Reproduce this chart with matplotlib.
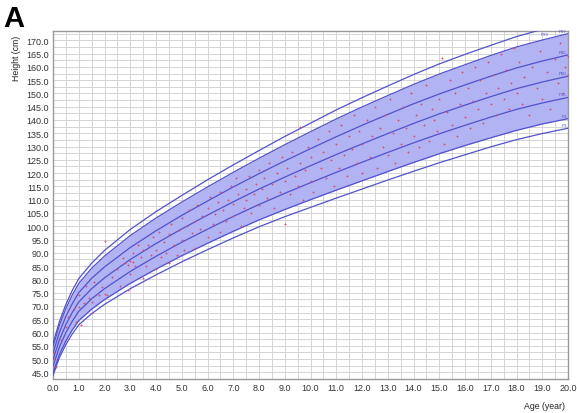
import matplotlib
matplotlib.use("Agg")
import matplotlib.pyplot as plt
import numpy as np

plt.rcParams['font.family'] = ['Liberation Sans', 'DejaVu Sans']

# Reference curves
ages = [0, 0.25, 0.5, 0.75, 1, 1.5, 2, 3, 4, 5, 6, 7, 8, 9, 10, 11, 12, 13, 14, 15, 16, 17, 18, 19, 20]
outer_top = [55.9, 64.2, 70.6, 75.9, 80.3, 86.1, 90.9, 98.8, 105.5, 111.6, 117.5, 123.1, 128.5, 133.8, 138.8, 143.8, 148.4, 152.8, 157.1, 161.1, 164.7, 168.1, 171.4, 174.1, 176.5]
band_top = [54.7, 62.8, 69.1, 74.2, 78.5, 84.2, 88.8, 96.5, 103.1, 109.1, 114.8, 120.3, 125.6, 130.7, 135.6, 140.4, 144.9, 149.2, 153.4, 157.3, 160.8, 164.3, 167.5, 170.1, 172.5]
plus_one = [52.3, 60.1, 66.1, 70.9, 75.0, 80.4, 84.7, 92.0, 98.3, 104.1, 109.5, 114.8, 119.8, 124.6, 129.2, 133.7, 138.0, 142.1, 146.1, 149.8, 153.2, 156.5, 159.6, 162.2, 164.5]
median = [49.8, 57.3, 63.0, 67.6, 71.5, 76.5, 80.6, 87.5, 93.5, 99.0, 104.2, 109.2, 114.0, 118.5, 122.8, 127.0, 131.0, 134.9, 138.7, 142.3, 145.6, 148.8, 151.8, 154.3, 156.5]
minus_one = [47.4, 54.6, 60.0, 64.3, 68.0, 72.7, 76.5, 83.0, 88.7, 94.0, 98.9, 103.7, 108.2, 112.4, 116.4, 120.3, 124.1, 127.8, 131.4, 134.8, 138.0, 141.1, 144.0, 146.4, 148.5]
band_bottom = [44.9, 51.8, 56.9, 61.0, 64.5, 68.8, 72.4, 78.5, 83.9, 88.9, 93.6, 98.1, 102.4, 106.3, 110.0, 113.6, 117.1, 120.6, 124.0, 127.3, 130.4, 133.3, 136.1, 138.5, 140.5]
outer_bottom = [43.8, 50.6, 55.5, 59.5, 62.9, 67.1, 70.6, 76.5, 81.7, 86.6, 91.2, 95.6, 99.8, 103.6, 107.1, 110.6, 114.0, 117.4, 120.7, 123.9, 126.9, 129.9, 132.6, 134.9, 136.9]
curve_labels = ['P99', 'P97', 'P85', 'P50', 'P15', 'P3', 'P1']

# Individual measurements (age in years, height in cm)
point_age = [0.05, 0.05, 0.1, 0.3, 0.5, 0.6, 0.8, 0.9, 1.0, 1.0, 1.1, 1.2, 1.3, 1.4, 1.5, 1.5, 1.6, 1.8, 1.9, 2.0, 2.0, 2.1, 2.3, 2.5, 2.6,
             2.7, 2.8, 2.9, 2.9, 3.0, 3.0, 3.1, 3.1, 3.2, 3.3, 3.4, 3.5, 3.5, 3.6, 3.7, 3.8, 3.9, 4.0, 4.0, 4.1, 4.2, 4.3, 4.4, 4.5, 4.5,
             4.6, 4.7, 4.8, 4.9, 5.0, 5.0, 5.1, 5.2, 5.3, 5.4, 5.5, 5.5, 5.6, 5.7, 5.8,
             6.0, 6.0, 6.1, 6.2, 6.3, 6.4, 6.5, 6.5, 6.6, 6.7, 6.8, 6.9, 7.0, 7.0, 7.1, 7.2, 7.3, 7.4, 7.5, 7.5, 7.6, 7.7, 7.8, 7.9, 8.0,
             8.0, 8.1, 8.2, 8.3, 8.4, 8.5, 8.6, 8.7, 8.8, 8.9, 9.0, 9.0, 9.1, 9.2, 9.3, 9.4, 9.5, 9.6, 9.6, 9.7, 9.8, 9.9, 10.0, 10.0, 10.1,
             10.3, 10.4, 10.5, 10.6, 10.7, 10.8, 10.9, 11.0, 11.1, 11.2, 11.3, 11.4, 11.5, 11.6, 11.7, 11.8, 11.9, 12.0, 12.0, 12.2, 12.3,
             12.4, 12.5, 12.6, 12.7, 12.8, 12.9, 13.0, 13.1, 13.2, 13.3, 13.4, 13.5, 13.6, 13.7, 13.8, 13.9, 14.0, 14.1, 14.2, 14.3, 14.4,
             14.5, 14.6, 14.7, 14.8, 14.9, 15.0, 15.1, 15.2,
             15.3, 15.4, 15.5, 15.6, 15.7, 15.8, 15.9, 16.0, 16.1, 16.2, 16.3, 16.4, 16.5, 16.6, 16.7, 16.8, 16.9, 17.0, 17.1, 17.2, 17.3,
             17.4, 17.5, 17.6, 17.7, 17.8, 17.9, 18.0, 18.1, 18.2, 18.3, 18.5, 18.6, 18.8, 18.9, 19.0, 19.2, 19.3, 19.5, 19.6, 19.7, 19.8,
             19.9, 20.0, 20.0]
point_height = [52.5, 50.0, 47.0, 57.0, 62.0, 66.0, 69.0, 64.0, 69.5, 74.0, 63.0, 71.0, 77.5, 73.0, 67.5, 71.5, 79.0, 74.0, 77.0, 74.5, 94.5, 74.0, 81.0, 84.0, 77.5,
                88.0, 86.0, 76.0, 85.5, 82.0, 87.0, 90.0, 86.5, 85.0, 93.0, 88.5, 80.5, 91.0, 85.0, 93.0, 89.0, 96.0, 84.0, 91.0, 98.0, 88.5, 94.0, 90.0, 97.0, 86.0,
                101.0, 93.0, 89.0, 98.5, 95.0, 103.0, 91.0, 100.0, 106.0, 97.5, 92.0, 102.0, 108.0, 99.0, 104.0,
                96.0, 107.0, 111.0, 101.0, 104.5, 109.0, 98.0, 113.0, 106.0, 102.0, 110.0, 115.0, 104.0, 108.5, 118.0, 112.0, 100.0, 107.0, 114.0, 110.0, 119.0, 105.0, 112.0, 116.0, 108.0,
                121.0, 114.0, 118.0, 110.5, 124.0, 116.0, 107.0, 120.0, 113.0, 126.0, 101.0, 117.0, 122.0, 112.0, 128.0, 119.0, 115.0, 137.5, 124.0, 110.0, 121.0, 130.0, 117.0, 126.0, 113.0,
                133.0, 122.0, 128.0, 118.0, 136.0, 125.0, 115.0, 131.0, 122.0, 138.0, 127.0, 119.0, 134.0, 129.0, 142.0, 124.0, 136.0, 120.0, 131.0, 140.0, 126.0,
                134.0, 145.0, 122.0, 137.0, 130.0, 142.0, 127.0, 148.0, 135.0, 124.0, 140.0, 131.0, 145.0, 137.0, 128.0, 150.0, 134.0, 142.0, 130.0, 146.0, 138.0,
                153.0, 132.0, 144.0, 140.0, 136.0, 148.0, 163.5, 131.0,
                143.0, 155.0, 138.0, 150.0, 134.0, 146.0, 158.0, 141.0, 152.0, 137.0, 147.0, 160.0, 144.0, 155.0, 139.0, 150.0, 162.0, 146.0, 157.0, 142.0, 152.0,
                165.0, 148.0, 159.0, 144.0, 154.0, 167.0, 150.0, 162.0, 146.0, 156.0, 142.0, 160.0, 152.0, 166.0, 148.0, 158.0, 144.0, 163.0, 154.0, 169.0, 150.0,
                160.0, 157.0, 164.0]

x_ticks = [0, 1, 2, 3, 4, 5, 6, 7, 8, 9, 10, 11, 12, 13, 14, 15, 16, 17, 18, 19, 20]
y_ticks = [45, 50, 55, 60, 65, 70, 75, 80, 85, 90, 95, 100, 105, 110, 115, 120, 125, 130, 135, 140, 145, 150, 155, 160, 165, 170]

fig = plt.figure(figsize=(5.77, 4.14), dpi=100)
ax = fig.add_axes([0.0919, 0.0821, 0.8925, 0.8406])

line_col = '#5252cc'
fill_col = '#b2b3f3'
y_top = 173.5

ax.fill_between(ages, band_bottom, band_top, color=fill_col, lw=0, zorder=1)
curves = [outer_top, band_top, plus_one, median, minus_one, band_bottom, outer_bottom]
for curve, lab in zip(curves, curve_labels):
    ax.plot(ages, curve, color=line_col, lw=0.9, zorder=3)
    if curve[-1] < y_top:
        ax.text(19.95, curve[-1] + 0.4, lab, fontsize=3.2, color=line_col,
                ha='right', va='bottom', zorder=5)
    else:
        x_exit = np.interp(y_top, curve, ages)
        ax.text(x_exit + 0.15, y_top - 0.4, lab, fontsize=3.2, color=line_col,
                ha='left', va='top', zorder=5)

ax.plot(point_age, point_height, linestyle='none', marker='+', ms=2.0, mew=0.65,
        color='#d4506c', zorder=4)

ax.set_xlim(0, 20)
ax.set_ylim(42.7, y_top)
ax.set_xticks(x_ticks)
ax.set_xticklabels([f"{v:.1f}" for v in x_ticks])
ax.set_yticks(y_ticks)
ax.set_yticklabels([f"{v:.1f}" for v in y_ticks])
ax.set_xticks(np.arange(0, 20.01, 0.5), minor=True)
ax.set_yticks(np.arange(42.5, 173.6, 2.5), minor=True)
ax.grid(which='both', color='#d4d4d4', lw=0.7, zorder=0)
ax.set_axisbelow(True)
ax.tick_params(which='both', length=0, labelsize=6.5, colors='#333333', pad=3)
for s in ax.spines.values():
    s.set_color('#999999')
    s.set_linewidth(1.0)

fig.text(0.028, 0.86, 'Height (cm)', rotation=90, fontsize=6.3, ha='center', va='center', color='#222222')
fig.text(0.943, 0.018, 'Age (year)', fontsize=6.3, ha='center', va='center', color='#222222')
fig.text(0.006, 0.955, 'A', fontsize=21, fontweight='bold', ha='left', va='center', color='black')

fig.savefig('out.png', dpi=100)
